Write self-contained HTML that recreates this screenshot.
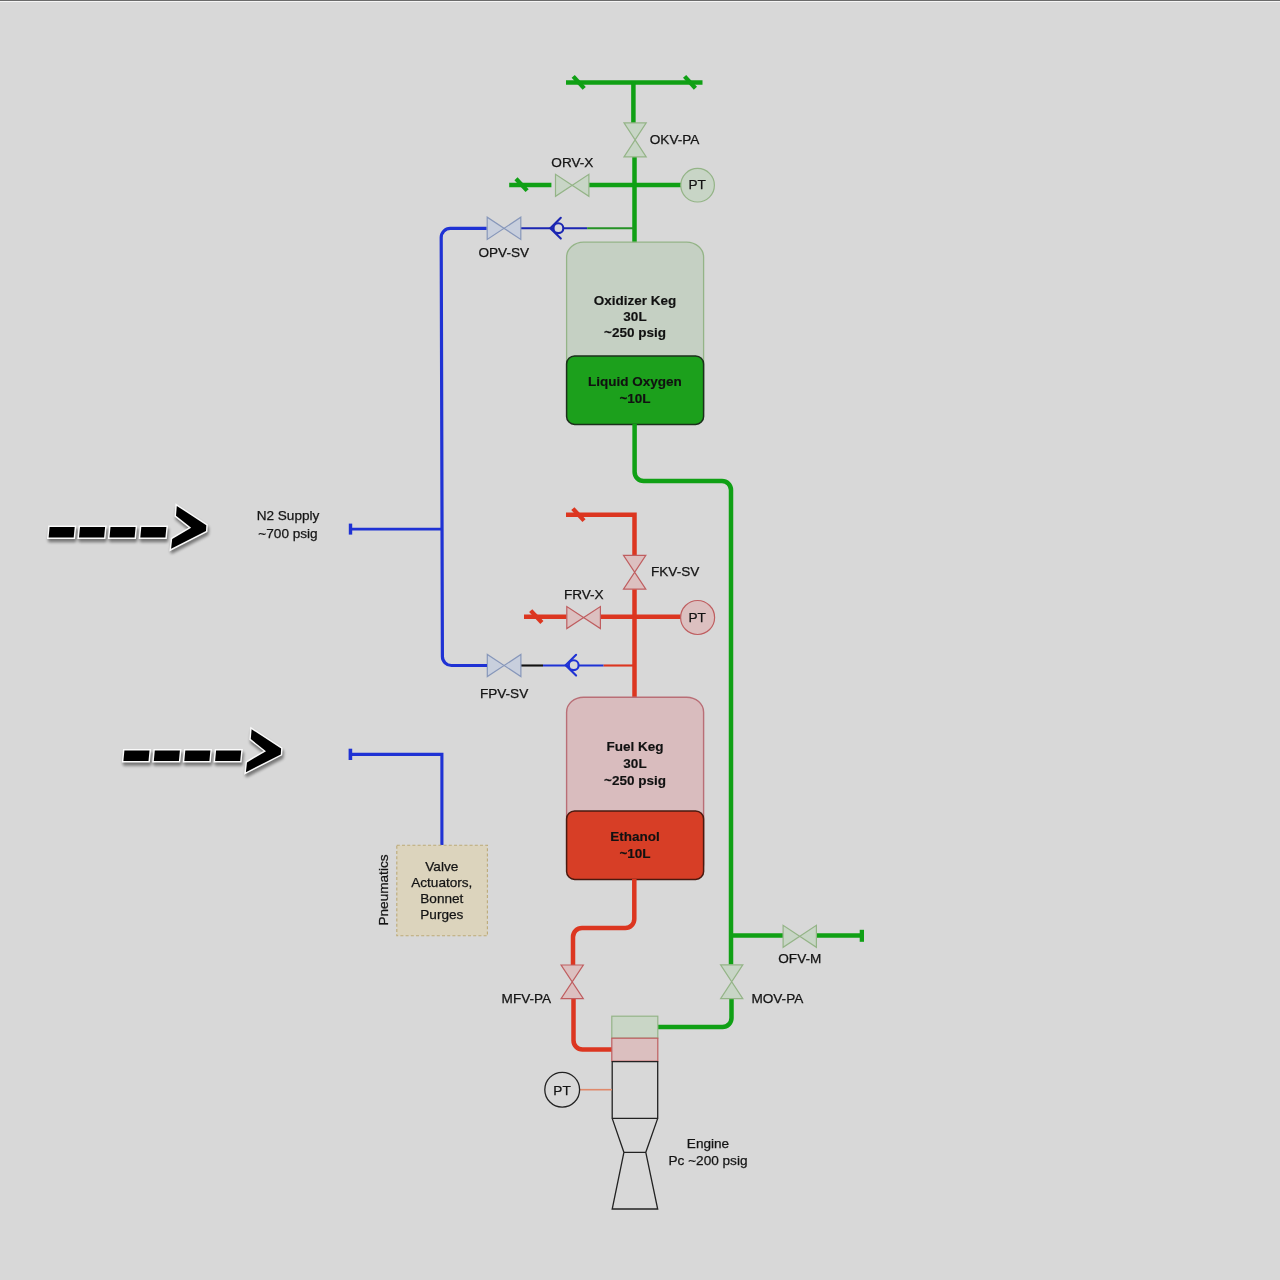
<!DOCTYPE html>
<html><head><meta charset="utf-8"><title>Propellant Feed System</title>
<style>
html,body{margin:0;padding:0;width:1280px;height:1280px;overflow:hidden;background:#d8d8d8;}
svg{display:block;}
text{font-family:"Liberation Sans",sans-serif;font-size:13.6px;fill:#141414;stroke:#141414;stroke-width:0.25px;}
svg{will-change:transform;}
text.b{font-weight:bold;font-size:13.5px;fill:#111;stroke:#111;stroke-width:0.15px;}
</style></head><body>
<svg width="1280" height="1280" viewBox="0 0 1280 1280">
<defs>
<filter id="sh" x="-20%" y="-50%" width="140%" height="200%">
<feGaussianBlur in="SourceAlpha" stdDeviation="1.8"/>
<feOffset dx="0.6" dy="3.2" result="o"/>
<feComponentTransfer><feFuncA type="linear" slope="0.45"/></feComponentTransfer>
</filter>
</defs>
<rect width="1280" height="1280" fill="#d8d8d8"/>
<rect x="0" y="0" width="1280" height="1" fill="#6b6b6b"/>
<rect x="0" y="1" width="1280" height="1" fill="#f6f6f6"/>
<path d="M566,82.6H702.5" fill="none" stroke="#10a015" stroke-width="4.5" />
<path d="M573.2,76.4L584.2,88.4" stroke="#10a015" stroke-width="4.3" stroke-linecap="butt"/>
<path d="M684.6,76.4L695.4,88.3" stroke="#10a015" stroke-width="4.3" stroke-linecap="butt"/>
<path d="M633.4,82.6V123.5" fill="none" stroke="#10a015" stroke-width="4.5" />
<path d="M634.5,157V243" fill="none" stroke="#10a015" stroke-width="4.5" />
<path d="M624.0,122.9L646.2,122.9L624.0,156.8L646.2,156.8Z" fill="#c8d5c6" stroke="#94b487" stroke-width="1.2" stroke-linejoin="miter"/>
<text x="649.8" y="143.9" text-anchor="start" >OKV-PA</text>
<path d="M509.2,185H551.4" fill="none" stroke="#10a015" stroke-width="4.5" />
<path d="M516,178.8L527.1,190.6" stroke="#10a015" stroke-width="4.3" stroke-linecap="butt"/>
<path d="M588.9,185H681" fill="none" stroke="#10a015" stroke-width="4.5" />
<path d="M555.5,174.3L555.5,196.3L588.9,174.3L588.9,196.3Z" fill="#c8d5c6" stroke="#94b487" stroke-width="1.2" stroke-linejoin="miter"/>
<text x="572.4" y="166.5" text-anchor="middle" >ORV-X</text>
<circle cx="697.6" cy="185.2" r="16.8" fill="#c8d5c6" stroke="#94b487" stroke-width="1.2"/>
<text x="697.2" y="189.4" text-anchor="middle" >PT</text>
<path d="M520.8,228.2H587.2" fill="none" stroke="#1b26b2" stroke-width="2.1" />
<path d="M587.2,228.2H634.5" fill="none" stroke="#259225" stroke-width="2.1" />
<path d="M560.8,217.8L550.3,228.2L560.8,238.6" fill="none" stroke="#1b26b2" stroke-width="2.1" stroke-linecap="round"/><circle cx="558.4" cy="228.2" r="4.9" fill="#d8d8d8" stroke="#1b26b2" stroke-width="2.1"/>
<path d="M487.2,217.2L487.2,239.5L520.8,217.2L520.8,239.5Z" fill="#c8cfdd" stroke="#8797ba" stroke-width="1.2" stroke-linejoin="miter"/>
<text x="503.8" y="257" text-anchor="middle" >OPV-SV</text>
<rect x="566.6" y="242.2" width="137" height="182" rx="17" ry="15" fill="#c5d0c3" stroke="#94b487" stroke-width="1.3"/>
<rect x="566.6" y="356" width="137" height="68.4" rx="8" fill="#1ca01c" stroke="#1b2f1b" stroke-width="1.5"/>
<text x="635" y="305" text-anchor="middle" class="b" >Oxidizer Keg</text>
<text x="635" y="321.2" text-anchor="middle" class="b" >30L</text>
<text x="635" y="337.2" text-anchor="middle" class="b" >~250 psig</text>
<text x="635" y="385.6" text-anchor="middle" class="b" >Liquid Oxygen</text>
<text x="635" y="403" text-anchor="middle" class="b" >~10L</text>
<path d="M634.6,424V472A9,9 0 0 0 643.6,481H722A9,9 0 0 1 731,490V964.5" fill="none" stroke="#10a015" stroke-width="4.5" />
<path d="M731.5,999V1018A9,9 0 0 1 722.5,1027H658" fill="none" stroke="#10a015" stroke-width="4.5" />
<path d="M731,935.6H783" fill="none" stroke="#10a015" stroke-width="4.5" />
<path d="M816.3,935.6H861" fill="none" stroke="#10a015" stroke-width="4.5" />
<rect x="859.7" y="929.8" width="4.3" height="12" fill="#10a015"/>
<path d="M783.1,925.3L783.1,947.3L816.4,925.3L816.4,947.3Z" fill="#c8d5c6" stroke="#94b487" stroke-width="1.2" stroke-linejoin="miter"/>
<text x="799.8" y="962.9" text-anchor="middle" >OFV-M</text>
<path d="M720.6,964.9L742.8,964.9L720.6,998.7L742.8,998.7Z" fill="#c8d5c6" stroke="#94b487" stroke-width="1.2" stroke-linejoin="miter"/>
<text x="751.4" y="1002.5" text-anchor="start" >MOV-PA</text>
<path d="M566,514.7H634.5V555" fill="none" stroke="#dc3620" stroke-width="4.5" stroke-linejoin="miter"/>
<path d="M572.8,508.6L584,520.6" stroke="#dc3620" stroke-width="4.3" stroke-linecap="butt"/>
<path d="M623.5,555.3L645.8,555.3L623.5,589.1L645.8,589.1Z" fill="#dcc0c0" stroke="#bf5e60" stroke-width="1.2" stroke-linejoin="miter"/>
<text x="651" y="576" text-anchor="start" >FKV-SV</text>
<path d="M634.5,589.5V698" fill="none" stroke="#dc3620" stroke-width="4.5" />
<path d="M524,616.8H566.5" fill="none" stroke="#dc3620" stroke-width="4.5" />
<path d="M530.7,610.6L541.9,622.5" stroke="#dc3620" stroke-width="4.3" stroke-linecap="butt"/>
<path d="M600.4,616.8H680.8" fill="none" stroke="#dc3620" stroke-width="4.5" />
<path d="M566.8,606.6L566.8,628.6L600.4,606.6L600.4,628.6Z" fill="#dcc0c0" stroke="#bf5e60" stroke-width="1.2" stroke-linejoin="miter"/>
<text x="583.8" y="598.9" text-anchor="middle" >FRV-X</text>
<circle cx="697.6" cy="617.5" r="17" fill="#dcc0c0" stroke="#bf5e60" stroke-width="1.2"/>
<text x="697.2" y="621.7" text-anchor="middle" >PT</text>
<path d="M520.9,665.5H543" fill="none" stroke="#111" stroke-width="2.1" />
<path d="M543,665.5H603.6" fill="none" stroke="#1f32d4" stroke-width="2.1" />
<path d="M603.6,665.5H634.5" fill="none" stroke="#dc3620" stroke-width="2.1" />
<path d="M576.1,654.8L565.6,665.2L576.1,675.6" fill="none" stroke="#1f32d4" stroke-width="2.1" stroke-linecap="round"/><circle cx="573.7" cy="665.2" r="4.9" fill="#d8d8d8" stroke="#1f32d4" stroke-width="2.1"/>
<path d="M487.3,654.4L487.3,676.6L520.9,654.4L520.9,676.6Z" fill="#c8cfdd" stroke="#8797ba" stroke-width="1.2" stroke-linejoin="miter"/>
<text x="504.1" y="697.7" text-anchor="middle" >FPV-SV</text>
<rect x="566.6" y="697.2" width="137" height="182" rx="17" ry="15" fill="#d9bcbe" stroke="#b96e76" stroke-width="1.4"/>
<rect x="566.6" y="811" width="137" height="68.4" rx="8" fill="#d73e26" stroke="#4a1a10" stroke-width="1.5"/>
<text x="635" y="751" text-anchor="middle" class="b" >Fuel Keg</text>
<text x="635" y="768" text-anchor="middle" class="b" >30L</text>
<text x="635" y="784.5" text-anchor="middle" class="b" >~250 psig</text>
<text x="635" y="840.8" text-anchor="middle" class="b" >Ethanol</text>
<text x="635" y="858" text-anchor="middle" class="b" >~10L</text>
<path d="M634.3,879V919A9,9 0 0 1 625.3,928H582A9,9 0 0 0 573,937V965" fill="none" stroke="#dc3620" stroke-width="4.5" />
<path d="M573.5,999V1040.5A9,9 0 0 0 582.5,1049.5H612" fill="none" stroke="#dc3620" stroke-width="4.5" />
<path d="M561.1,965.0L583.3,965.0L561.1,998.6L583.3,998.6Z" fill="#dcc0c0" stroke="#bf5e60" stroke-width="1.2" stroke-linejoin="miter"/>
<text x="551.2" y="1002.6" text-anchor="end" >MFV-PA</text>
<rect x="611.8" y="1016.2" width="46" height="22" fill="#c9d6c6" stroke="#94b487" stroke-width="1.2"/>
<rect x="611.8" y="1038.2" width="46" height="23" fill="#dbbfbf" stroke="#bf5e60" stroke-width="1.2"/>
<path d="M612.2,1061.7H657.7V1118.4H612.2Z M612.2,1118.4L623.9,1152.3H645.8L657.7,1118.4 M623.9,1152.3L612.2,1209H657.7L645.8,1152.3" fill="none" stroke="#222" stroke-width="1.3"/>
<path d="M580,1089.7H612" stroke="#e0896a" stroke-width="1.6"/>
<circle cx="562.2" cy="1089.7" r="17.4" fill="none" stroke="#222" stroke-width="1.3"/>
<text x="562" y="1094.5" text-anchor="middle" >PT</text>
<text x="708" y="1148.3" text-anchor="middle" >Engine</text>
<text x="708" y="1164.9" text-anchor="middle" >Pc ~200 psig</text>
<path d="M486.5,228.4H450.2A9,9 0 0 0 441.2,237.4L442.4,656.5A9,9 0 0 0 451.4,665.5H487" fill="none" stroke="#1f32d4" stroke-width="3.2" />
<path d="M351,529.1H441.8" fill="none" stroke="#1f32d4" stroke-width="2.6" />
<rect x="348.8" y="523.6" width="3.4" height="11" fill="#1f32d4"/>
<path d="M351,754.4H441.9V845" fill="none" stroke="#1f32d4" stroke-width="3.1" stroke-linejoin="miter"/>
<rect x="348.6" y="748.7" width="3.6" height="11.3" fill="#1f32d4"/>
<rect x="396.8" y="845.2" width="90.6" height="90.6" fill="#dcd4bd" stroke="#bcaa78" stroke-width="1.1" stroke-dasharray="3,2.2"/>
<text x="441.8" y="870.5" text-anchor="middle" >Valve</text>
<text x="441.8" y="886.9" text-anchor="middle" >Actuators,</text>
<text x="441.8" y="903.3" text-anchor="middle" >Bonnet</text>
<text x="441.8" y="918.9" text-anchor="middle" >Purges</text>
<text transform="translate(388,890) rotate(-90)" text-anchor="middle">Pneumatics</text>
<text x="288" y="520.2" text-anchor="middle" >N2 Supply</text>
<text x="288" y="537.5" text-anchor="middle" >~700 psig</text>
<g transform="translate(0,0)"><path d="M49.6,527.1L74.7,527.1L73.7,537.6L48.6,537.6Z M80.0,527.1L105.1,527.1L104.1,537.6L79.0,537.6Z M110.5,527.1L135.6,527.1L134.6,537.6L109.5,537.6Z M141.3,527.1L166.4,527.1L165.4,537.6L140.3,537.6Z M176.8,505.9L206.3,525.2L206,531L171.1,548.8L172.2,539L191.2,527.8L176,515.7Z" fill="#000" stroke="#000" stroke-width="3.5" stroke-linejoin="round" filter="url(#sh)"/><path d="M49.6,527.1L74.7,527.1L73.7,537.6L48.6,537.6Z M80.0,527.1L105.1,527.1L104.1,537.6L79.0,537.6Z M110.5,527.1L135.6,527.1L134.6,537.6L109.5,537.6Z M141.3,527.1L166.4,527.1L165.4,537.6L140.3,537.6Z M176.8,505.9L206.3,525.2L206,531L171.1,548.8L172.2,539L191.2,527.8L176,515.7Z" fill="#000" stroke="#fafafa" stroke-width="3.0" stroke-linejoin="miter"/><path d="M49.6,527.1L74.7,527.1L73.7,537.6L48.6,537.6Z M80.0,527.1L105.1,527.1L104.1,537.6L79.0,537.6Z M110.5,527.1L135.6,527.1L134.6,537.6L109.5,537.6Z M141.3,527.1L166.4,527.1L165.4,537.6L140.3,537.6Z M176.8,505.9L206.3,525.2L206,531L171.1,548.8L172.2,539L191.2,527.8L176,515.7Z" fill="#000"/></g>
<g transform="translate(74.8,223.4)"><path d="M49.6,527.1L74.7,527.1L73.7,537.6L48.6,537.6Z M80.0,527.1L105.1,527.1L104.1,537.6L79.0,537.6Z M110.5,527.1L135.6,527.1L134.6,537.6L109.5,537.6Z M141.3,527.1L166.4,527.1L165.4,537.6L140.3,537.6Z M176.8,505.9L206.3,525.2L206,531L171.1,548.8L172.2,539L191.2,527.8L176,515.7Z" fill="#000" stroke="#000" stroke-width="3.5" stroke-linejoin="round" filter="url(#sh)"/><path d="M49.6,527.1L74.7,527.1L73.7,537.6L48.6,537.6Z M80.0,527.1L105.1,527.1L104.1,537.6L79.0,537.6Z M110.5,527.1L135.6,527.1L134.6,537.6L109.5,537.6Z M141.3,527.1L166.4,527.1L165.4,537.6L140.3,537.6Z M176.8,505.9L206.3,525.2L206,531L171.1,548.8L172.2,539L191.2,527.8L176,515.7Z" fill="#000" stroke="#fafafa" stroke-width="3.0" stroke-linejoin="miter"/><path d="M49.6,527.1L74.7,527.1L73.7,537.6L48.6,537.6Z M80.0,527.1L105.1,527.1L104.1,537.6L79.0,537.6Z M110.5,527.1L135.6,527.1L134.6,537.6L109.5,537.6Z M141.3,527.1L166.4,527.1L165.4,537.6L140.3,537.6Z M176.8,505.9L206.3,525.2L206,531L171.1,548.8L172.2,539L191.2,527.8L176,515.7Z" fill="#000"/></g>
</svg>
</body></html>
